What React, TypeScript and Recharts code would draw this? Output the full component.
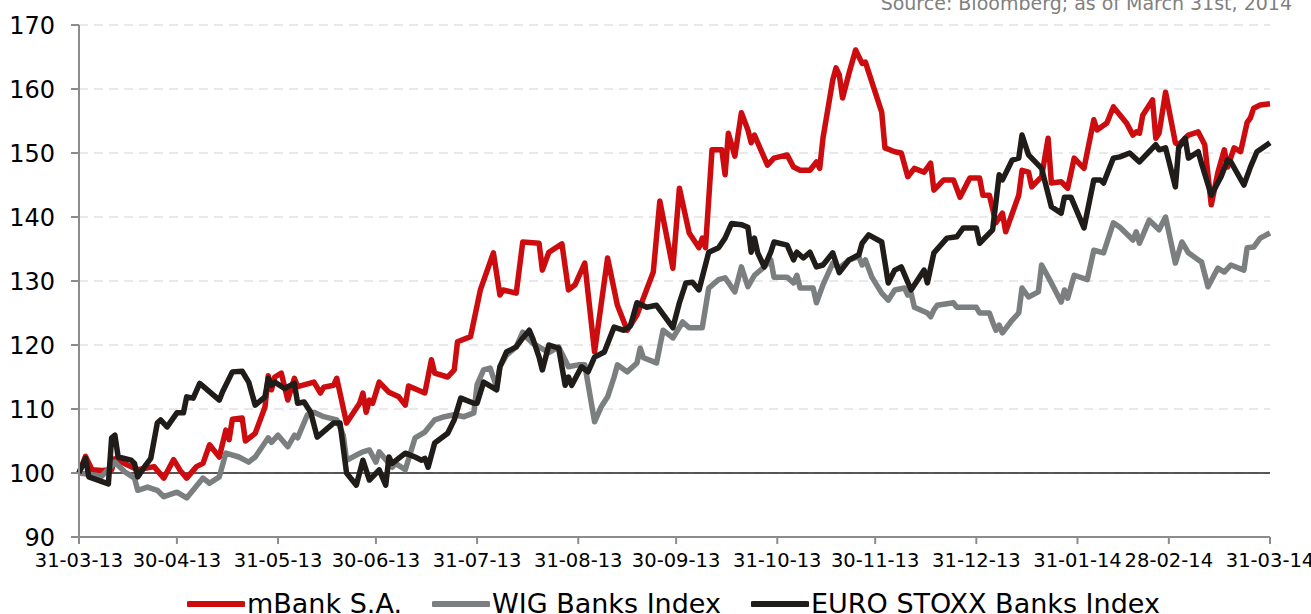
import React from 'react'
import {
  LineChart,
  Line,
  XAxis,
  YAxis,
  CartesianGrid,
  ReferenceLine,
  Legend,
} from 'recharts'

// days since 31-03-13
const tickDays = [0, 30, 61, 91, 122, 153, 183, 214, 244, 275, 306, 334, 365]
const tickLabels = [
  '31-03-13', '30-04-13', '31-05-13', '30-06-13', '31-07-13', '31-08-13', '30-09-13',
  '31-10-13', '30-11-13', '31-12-13', '31-01-14', '28-02-14', '31-03-14',
]
const yTicks = [90, 100, 110, 120, 130, 140, 150, 160, 170]

const mbankDays = [
  0, 2, 4, 7, 10, 11, 18, 23, 26, 29, 31, 33, 36, 38, 40, 43, 45, 46, 47, 50,
  51, 54, 57, 58, 59, 60, 62, 64, 66, 67, 72, 74, 75, 78, 79, 82, 86, 87, 88, 89,
  90, 92, 95, 98, 100, 101, 106, 108, 109, 113, 115, 116, 120, 123, 127, 129, 130, 134, 136, 141,
  142, 144, 148, 150, 152, 155, 158, 162, 165, 168, 171, 176, 178, 182, 184, 187, 190, 191, 192, 194,
  197, 198, 199, 201, 203, 205, 206, 207, 211, 213, 217, 219, 221, 224, 226, 227, 228, 231, 232, 233,
  234, 236, 238, 240, 241, 246, 247, 250, 252, 254, 256, 259, 261, 262, 265, 268, 270, 273, 276, 277,
  279, 281, 283, 284, 288, 289, 291, 292, 295, 297, 298, 301, 303, 305, 307, 308, 311, 312, 315, 317,
  321, 323, 324, 325, 326, 329, 330, 331, 333, 336, 337, 340, 343, 345, 347, 349, 351, 352, 354, 356,
  358, 359, 360, 362, 365,
]
const mbankValues = [
  100, 102.6, 100.5, 100.4, 100.5, 102.2, 100.5, 101, 99.2, 102.1, 100.4, 99.2, 101, 101.5, 104.4, 102.5, 106.7, 105.2, 108.4, 108.6,
  105, 106.2, 110.3, 115.2, 113, 115, 115.6, 111.4, 114.8, 113.5, 114.2, 112.5, 113.4, 113.7, 114.8, 107.8, 110.9, 112.5, 109.5, 111.4,
  110.9, 114.2, 112.6, 111.9, 110.6, 113.6, 112.5, 117.7, 115.6, 115, 116.1, 120.5, 121.3, 128.6, 134.4, 127.8, 128.6, 128.1, 136.1, 135.9,
  131.7, 134.5, 135.8, 128.6, 129.4, 132.8, 118.9, 133.6, 126.2, 122.3, 124.7, 131.4, 142.5, 132, 144.5, 137.5, 135.2, 136.7, 135.2, 150.5,
  150.5, 146.6, 153.1, 149.5, 156.3, 153.6, 151.6, 152.8, 148.1, 149.2, 149.7, 147.8, 147.3, 147.3, 148.6, 147.6, 152.3, 161.4, 163.3, 162.2,
  158.6, 162.5, 166.1, 164, 164.2, 156.4, 150.8, 150.2, 150, 146.3, 147.6, 147, 148.4, 144.2, 145.8, 145.8, 143.1, 146.1, 146.1, 143.4,
  143.4, 139.1, 140.6, 137.7, 143.4, 147.3, 147, 144.7, 146.3, 152.3, 145.3, 145.5, 144.5, 149.2, 148.1, 147.6, 155.2, 153.6, 154.7, 157.2,
  154.7, 152.8, 153.3, 153.1, 155.9, 158.3, 152.3, 153.1, 159.5, 151.6, 151.3, 152.8, 153.3, 151.3, 141.9, 146.9, 150.5, 147.8, 150.8, 150.2,
  154.8, 155.5, 157, 157.5, 157.7,
]

const wigDays = [
  0, 3, 7, 11, 14, 17, 18, 21, 24, 26, 30, 33, 38, 40, 43, 45, 49, 52, 54, 58,
  59, 61, 64, 66, 67, 70, 72, 75, 79, 81, 82, 85, 87, 89, 91, 92, 96, 97, 100, 103,
  106, 109, 112, 115, 118, 121, 122, 124, 126, 128, 129, 131, 134, 136, 137, 139, 144, 147, 150, 153,
  155, 158, 160, 162, 164, 165, 168, 171, 172, 173, 177, 179, 182, 185, 187, 191, 193, 196, 198, 201,
  203, 205, 207, 210, 212, 213, 217, 219, 220, 221, 225, 226, 228, 231, 233, 236, 239, 240, 241, 243,
  246, 248, 250, 253, 254, 255, 256, 260, 261, 262, 263, 268, 269, 275, 276, 279, 280, 281, 282, 283,
  286, 288, 289, 291, 294, 295, 298, 301, 302, 303, 305, 309, 311, 314, 317, 319, 323, 324, 325, 328,
  331, 333, 336, 338, 340, 343, 344, 346, 349, 351, 353, 357, 358, 360, 362, 365,
]
const wigValues = [
  100, 99.8, 99.5, 101.7, 100.2, 99.2, 97.3, 97.8, 97.3, 96.3, 97, 96.1, 99.2, 98.4, 99.4, 103.1, 102.5, 101.7, 102.5, 105.5,
  104.8, 105.9, 104.1, 105.9, 105.5, 109.1, 109.5, 108.8, 108.3, 105.9, 102, 102.8, 103.3, 103.6, 101.7, 103.3, 100.9, 101.5, 100.5, 105.5,
  106.4, 108.3, 108.8, 109.1, 108.8, 109.4, 113.8, 116.1, 116.4, 113.4, 116.6, 118.4, 119.7, 122, 121.3, 120.3, 118.8, 119.7, 116.6, 116.9,
  116.9, 108, 110.3, 111.9, 115, 116.9, 115.8, 117.2, 119.5, 118, 117.2, 122.3, 121.1, 123.6, 122.7, 122.7, 128.9, 130.2, 130.5, 128.3,
  132.2, 129.1, 130.9, 132.2, 133.3, 130.6, 130.6, 129.7, 130.9, 128.9, 128.9, 126.6, 129.4, 132.8, 132, 133.3, 133.8, 132.5, 133.3, 130.6,
  128.1, 127, 128.6, 128.9, 127.8, 128.1, 125.9, 125, 124.4, 125.5, 126.2, 126.6, 125.9, 125.9, 125, 125, 123.6, 122.3, 123.1, 121.9,
  123.9, 125, 128.9, 127.5, 128.3, 132.5, 129.7, 126.7, 128.6, 127.3, 130.9, 130.2, 134.8, 134.4, 139.1, 138.4, 136.4, 137.7, 135.9, 139.5,
  138, 140, 132.8, 136.1, 134.4, 133.3, 133, 129.1, 132, 131.4, 132.5, 131.7, 135.2, 135.3, 136.7, 137.5,
]

const stoxxDays = [
  0, 2, 3, 9, 10, 11, 12, 16, 17, 18, 20, 22, 24, 25, 27, 30, 32, 33, 35, 37,
  43, 44, 47, 50, 52, 54, 57, 58, 59, 60, 63, 66, 67, 69, 71, 73, 78, 80, 82, 85,
  87, 89, 92, 94, 95, 96, 100, 103, 105, 106, 107, 109, 113, 115, 117, 121, 122, 124, 128, 129,
  131, 134, 136, 138, 139, 141, 142, 144, 147, 149, 150, 151, 154, 156, 158, 161, 164, 167, 169, 171,
  174, 177, 182, 184, 186, 188, 190, 193, 196, 198, 200, 203, 205, 206, 207, 208, 210, 212, 213, 217,
  219, 220, 222, 224, 226, 228, 231, 233, 236, 239, 240, 242, 246, 248, 250, 252, 255, 259, 260, 262,
  266, 269, 271, 275, 276, 280, 282, 283, 286, 288, 289, 291, 295, 298, 301, 302, 304, 308, 311, 313,
  314, 317, 319, 322, 325, 330, 331, 333, 336, 337, 339, 340, 343, 344, 347, 350, 352, 353, 357, 359,
  361, 365,
]
const stoxxValues = [
  100, 102.3, 99.4, 98.3, 105.5, 105.9, 102.5, 102, 101.5, 99.4, 100.9, 102.3, 107.8, 108.3, 107.2, 109.4, 109.4, 111.9, 111.7, 114,
  111.4, 112.7, 115.8, 115.9, 114.2, 110.6, 111.9, 114.8, 113.7, 114.2, 113.2, 114, 110.9, 111.1, 109.5, 105.6, 107.8, 107.8, 100, 98.1,
  102, 98.9, 100.5, 98.1, 102.5, 101.5, 103.1, 102.5, 102, 102.3, 100.9, 104.7, 106.2, 108.3, 111.7, 110.9, 110.9, 114.2, 113, 116.6,
  118.9, 119.7, 121.1, 122.3, 121.1, 118.1, 116.1, 120, 119.5, 113.7, 115, 113.7, 116.6, 115.8, 118.1, 118.9, 122.8, 122.3, 123, 126.6,
  125.9, 126.2, 122.7, 126.6, 129.7, 129.8, 128.6, 134.5, 135.2, 136.7, 139, 138.8, 138.4, 134.5, 136.7, 134.4, 132.2, 134.5, 136.1, 135.6,
  133.3, 134.5, 133.6, 134.5, 132.2, 132.5, 134.4, 131.3, 133.3, 134.1, 135.9, 137.2, 136.1, 129.7, 131.7, 132.2, 128.6, 131.7, 129.7, 134.4,
  136.7, 136.9, 138.3, 138.3, 135.9, 138, 146.6, 145.8, 148.9, 149.2, 152.8, 149.7, 147.6, 141.6, 140.6, 143.1, 143.1, 138.3, 145.8, 145.8,
  145.3, 149.2, 149.4, 150, 148.6, 151.3, 150.5, 150.8, 144.7, 150.8, 152.3, 149.2, 150.2, 148.4, 143.4, 146.3, 148.9, 148.6, 145, 147.8,
  150.2, 151.6,
]

const toPoints = (days: number[], values: number[]) =>
  days.map((day, i) => ({ day, value: values[i] }))

const series = [
  { name: 'mBank S.A.', color: '#cc0c0e', data: toPoints(mbankDays, mbankValues) },
  { name: 'WIG Banks Index', color: '#7b7f80', data: toPoints(wigDays, wigValues) },
  { name: 'EURO STOXX Banks Index', color: '#1f1c19', data: toPoints(stoxxDays, stoxxValues) },
]

const FONT = '"DejaVu Sans", Verdana, sans-serif'

const ChartLegend = () => (
  <div
    style={{
      height: 37,
      paddingTop: 13,
      paddingLeft: 187,
      boxSizing: 'border-box',
      display: 'flex',
      alignItems: 'flex-start',
      fontFamily: FONT,
      fontSize: 27,
      lineHeight: '27px',
      color: '#000',
      overflow: 'hidden',
      whiteSpace: 'nowrap',
    }}
  >
    {series.map((s, i) => (
      <div key={i} style={{ display: 'flex', alignItems: 'center', marginRight: 30 }}>
        <svg width={58} height={10} style={{ marginRight: 2 }}>
          <line x1={2} y1={5} x2={56} y2={5} stroke={s.color} strokeWidth={6} strokeLinecap="round" />
        </svg>
        <span>{s.name}</span>
      </div>
    ))}
  </div>
)

export default function App() {
  return (
    <div style={{ position: 'absolute', left: 0, top: 0, width: 1311, height: 614, overflow: 'hidden', background: '#fff' }}>
      <div
        style={{
          position: 'absolute',
          right: 19,
          top: -8,
          fontFamily: FONT,
          fontSize: 19,
          lineHeight: '22px',
          color: '#808080',
          whiteSpace: 'nowrap',
        }}
      >
        Source: Bloomberg; as of March 31st, 2014
      </div>
      <LineChart
        width={1311}
        height={614}
        margin={{ top: 25, right: 41, bottom: 0, left: 9 }}
        style={{ fontFamily: FONT }}
      >
        <CartesianGrid horizontal vertical={false} stroke="#e2e2e2" strokeWidth={1.5} strokeDasharray="9 6" />
        <XAxis
          dataKey="day"
          type="number"
          domain={[0, 365]}
          ticks={tickDays}
          interval={0}
          tickFormatter={(d: number) => tickLabels[tickDays.indexOf(d)]}
          height={40}
          stroke="#8c8c8c"
          strokeWidth={2}
          tickSize={7}
          tickMargin={9}
          tick={{ fill: '#000', fontSize: 19.5, fontFamily: FONT }}
        />
        <YAxis
          type="number"
          domain={[90, 170]}
          ticks={yTicks}
          interval={0}
          width={70}
          stroke="#8c8c8c"
          strokeWidth={2}
          tickSize={8}
          tickMargin={16}
          tick={{ fill: '#000', fontSize: 24, fontFamily: FONT }}
        />
        <ReferenceLine y={100} stroke="#222" strokeWidth={1.5} />
        {series.map((s) => (
          <Line
            key={s.name}
            data={s.data}
            dataKey="value"
            name={s.name}
            type="linear"
            stroke={s.color}
            strokeWidth={5.5}
            strokeLinejoin="round"
            dot={false}
            activeDot={false}
            isAnimationActive={false}
          />
        ))}
        <Legend
          verticalAlign="bottom"
          height={37}
          wrapperStyle={{ left: 0, width: 1311 }}
          content={<ChartLegend />}
        />
      </LineChart>
    </div>
  )
}
